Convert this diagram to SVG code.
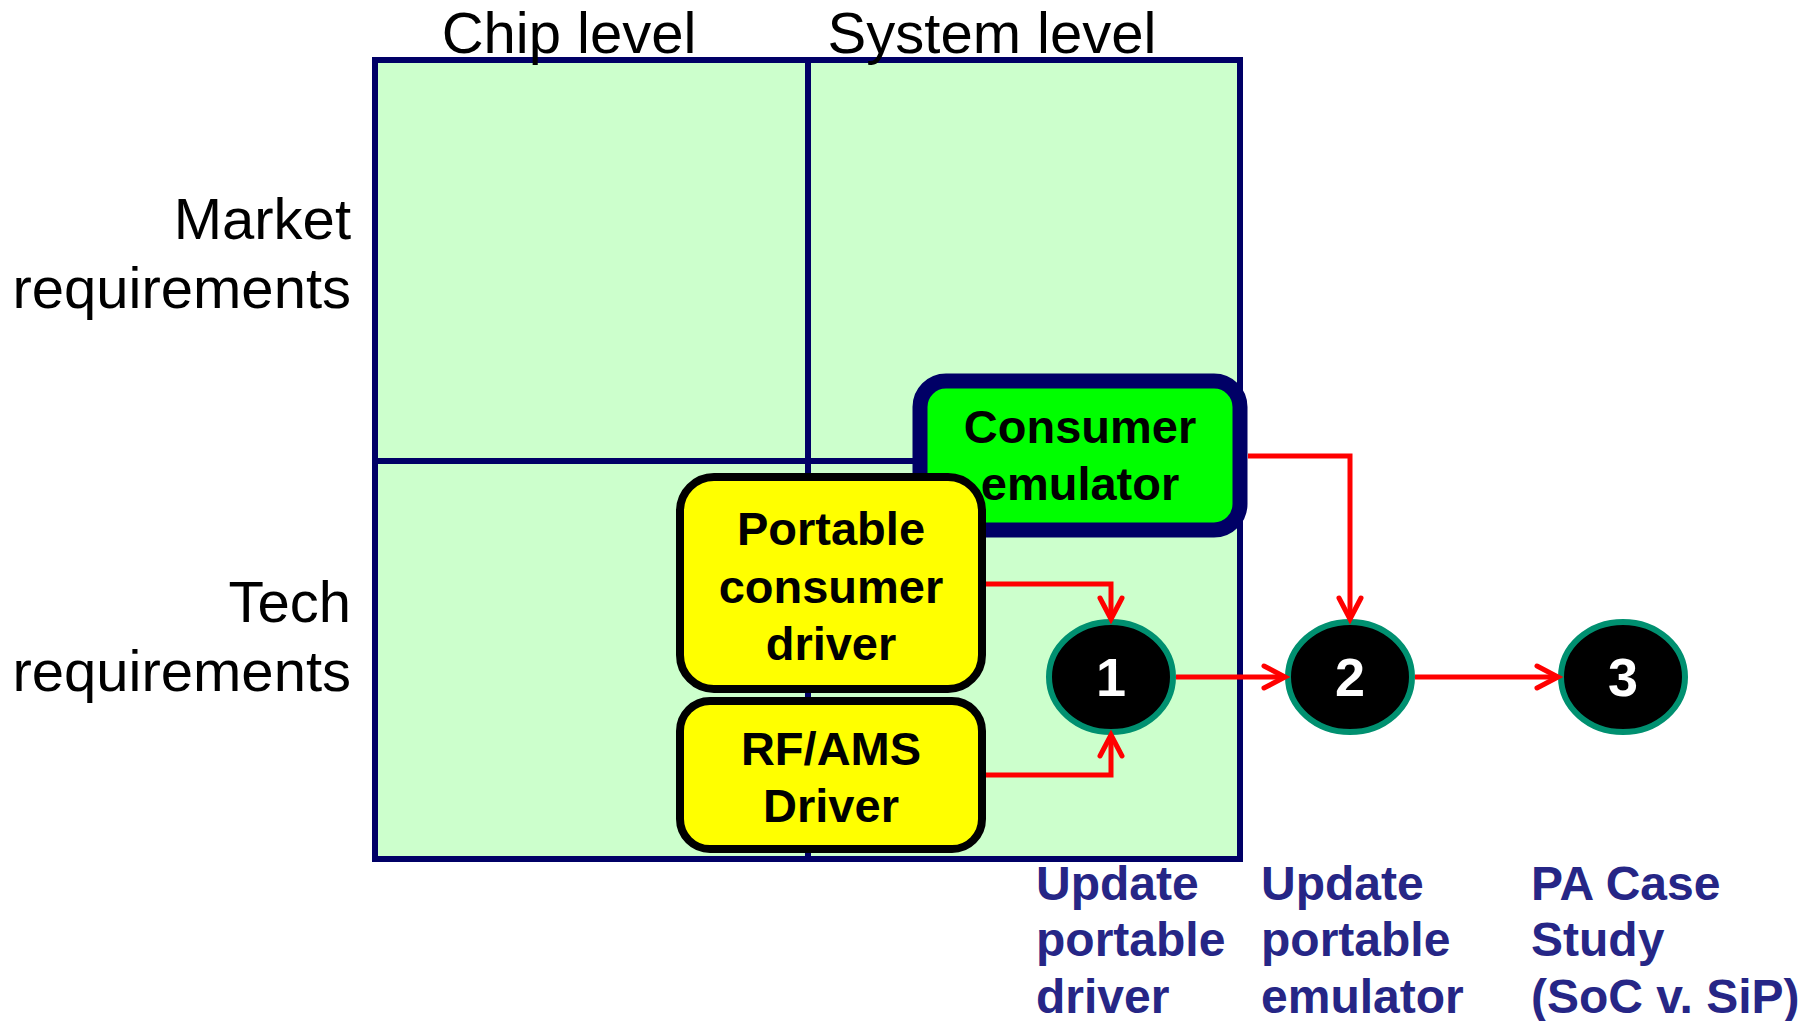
<svg xmlns="http://www.w3.org/2000/svg" width="1804" height="1021" viewBox="0 0 1804 1021">
  <style>
    .axis { font-family: "Liberation Sans", Arial, sans-serif; font-size: 58px; fill: #000000; }
    .node-text { font-family: "Liberation Sans", Arial, sans-serif; font-size: 47px; font-weight: bold; fill: #000000; text-anchor: middle; }
    .num { font-family: "Liberation Sans", Arial, sans-serif; font-size: 54px; font-weight: bold; fill: #FFFFFF; text-anchor: middle; }
    .step { font-family: "Liberation Sans", Arial, sans-serif; font-size: 48px; font-weight: bold; fill: #262686; }
    .grid-line { stroke: #000066; stroke-width: 6; fill: none; }
    .grid-cell { fill: #CCFFCC; stroke: #000066; stroke-width: 6; }
    .yellow-box { fill: #FFFF00; stroke: #000000; stroke-width: 8; }
    .step-circle { fill: #000000; stroke: #009070; stroke-width: 6; }
    .link { fill: none; stroke: #FF0000; stroke-width: 5; marker-end: url(#arrow); }
  </style>
  <defs>
    <marker id="arrow" markerUnits="userSpaceOnUse" markerWidth="30" markerHeight="30" refX="24" refY="14" orient="auto">
      <path d="M3,3 L24,14 L3,25" fill="none" stroke="#FF0000" stroke-width="5" stroke-linecap="round"/>
    </marker>
  </defs>

  <rect width="1804" height="1021" fill="#FFFFFF"/>

  <!-- 2x2 requirements grid -->
  <g id="grid">
    <rect x="375" y="60" width="865" height="799" class="grid-cell"/>
    <line x1="808" y1="60" x2="808" y2="859" class="grid-line"/>
    <line x1="375" y1="461" x2="1240" y2="461" class="grid-line"/>
  </g>

  <!-- axis labels -->
  <g id="axis-labels">
    <text class="axis" x="569" y="53" text-anchor="middle">Chip level</text>
    <text class="axis" x="992" y="53" text-anchor="middle">System level</text>
    <text class="axis" x="351" y="239" text-anchor="end">Market</text>
    <text class="axis" x="351" y="308" text-anchor="end">requirements</text>
    <text class="axis" x="351" y="622" text-anchor="end">Tech</text>
    <text class="axis" x="351" y="691" text-anchor="end">requirements</text>
  </g>

  <g id="consumer-emulator">
    <rect x="920" y="381" width="320" height="149" rx="26" fill="#00FF00" stroke="#000066" stroke-width="15"/>
    <text class="node-text" x="1080" y="443">Consumer</text>
    <text class="node-text" x="1080" y="500">emulator</text>
  </g>

  <g id="portable-consumer-driver">
    <rect x="680" y="477" width="302" height="212" rx="34" class="yellow-box"/>
    <text class="node-text" x="831" y="545">Portable</text>
    <text class="node-text" x="831" y="603">consumer</text>
    <text class="node-text" x="831" y="660">driver</text>
  </g>

  <g id="rf-ams-driver">
    <rect x="680" y="701" width="302" height="148" rx="30" class="yellow-box"/>
    <text class="node-text" x="831" y="765">RF/AMS</text>
    <text class="node-text" x="831" y="822">Driver</text>
  </g>

  <g id="step-1">
    <ellipse cx="1111" cy="677" rx="62" ry="55" class="step-circle"/>
    <text class="num" x="1111" y="696">1</text>
  </g>
  <g id="step-2">
    <ellipse cx="1350" cy="677" rx="62" ry="55" class="step-circle"/>
    <text class="num" x="1350" y="696">2</text>
  </g>
  <g id="step-3">
    <ellipse cx="1623" cy="677" rx="62" ry="55" class="step-circle"/>
    <text class="num" x="1623" y="696">3</text>
  </g>

  <!-- connectors -->
  <g id="connectors">
    <path class="link" d="M986,584 H1111 V619"/>
    <path class="link" d="M986,775 H1111 V735"/>
    <path class="link" d="M1248,456 H1350 V619"/>
    <path class="link" d="M1176,677 H1285"/>
    <path class="link" d="M1415,677 H1558"/>
  </g>

  <!-- step captions -->
  <g id="step-captions">
    <text class="step" x="1036" y="900">Update</text>
    <text class="step" x="1036" y="956">portable</text>
    <text class="step" x="1036" y="1013">driver</text>
    <text class="step" x="1261" y="900">Update</text>
    <text class="step" x="1261" y="956">portable</text>
    <text class="step" x="1261" y="1013">emulator</text>
    <text class="step" x="1531" y="900">PA Case</text>
    <text class="step" x="1531" y="956">Study</text>
    <text class="step" x="1531" y="1013">(SoC v. SiP)</text>
  </g>
</svg>
